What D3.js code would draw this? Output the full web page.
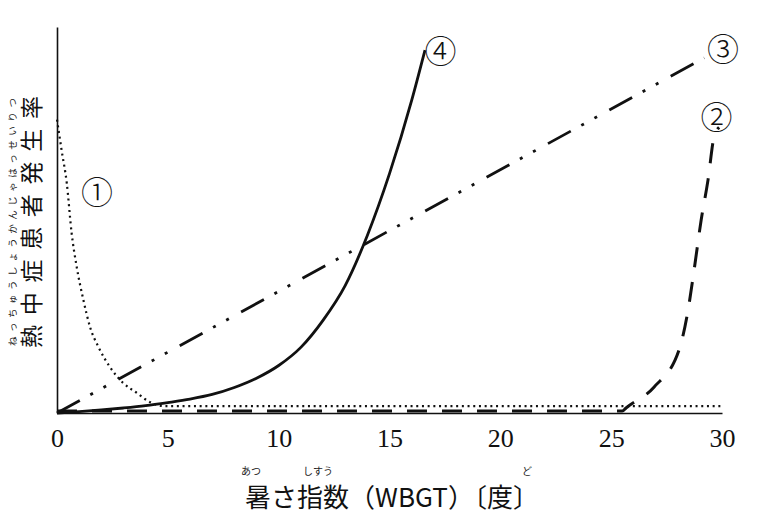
<!DOCTYPE html>
<html>
<head>
<meta charset="utf-8">
<script src="https://cdn.jsdelivr.net/npm/d3@7/dist/d3.min.js"></script>
<style>
  html, body { margin: 0; padding: 0; background: #fff; }
  svg { display: block; }
</style>
</head>
<body>
<svg id="chart" width="780" height="525"></svg>
<script>
// x ticks (WBGT)
const xTicks = [0, 5, 10, 15, 20, 25, 30];

// curve 1 (dotted): falls quickly, then stays low
const curve1X = [0, 0.21, 0.44, 0.66, 0.89, 1.19, 1.49, 1.87, 2.39, 2.98, 3.6, 4.2, 4.8, 30];
const curve1Y = [76, 68, 59.6, 46.6, 37.8, 29.3, 22.3, 17.1, 11.9, 7.8, 5.2, 2.8, 1.8, 1.8];

// curve 2 (dashed): flat, then steep rise near 26-30
const curve2X = [0, 25.5, 25.67, 26.93, 28.06, 28.47, 28.74, 29.06, 29.37, 29.64, 29.87];
const curve2Y = [0.5, 0.5, 1.3, 6.7, 16.3, 26.7, 37, 50, 60.4, 71.5, 74];

// curve 3 (dash-dot-dot): straight rise
const curve3X = [0, 29.2];
const curve3Y = [0, 92];

// curve 4 (solid): accelerating rise
const curve4X = [0, 1, 2, 3, 4, 5, 6, 7, 8, 9, 10, 11, 12, 13, 14, 15, 16, 16.6];
const curve4Y = [0, 0.35, 0.8, 1.3, 1.9, 2.7, 3.6, 4.8, 6.6, 9, 12.3, 17, 24, 33, 46, 62, 81, 94];

// curve labels
const labelText = ["①", "②", "③", "④"];
const labelX = [1.8, 29.75, 30.05, 17.3];
const labelY = [57, 76.5, 94.2, 93.6];

const svg = d3.select("#chart");
const margin = { top: 27, right: 58, bottom: 112, left: 57 };
const width = 780 - margin.left - margin.right;
const height = 525 - margin.top - margin.bottom;

const g = svg.append("g")
    .attr("transform", "translate(" + margin.left + "," + margin.top + ")");

const x = d3.scaleLinear().domain([0, 30]).range([0, width]);
const y = d3.scaleLinear().domain([0, 100]).range([height, 0]);

const serif = "'Liberation Serif', 'DejaVu Serif', serif";
const jp = "'Noto Sans CJK JP', sans-serif";

// axes: plain lines, no tick marks
const xAxis = g.append("g")
    .attr("transform", "translate(0," + height + ")")
    .call(d3.axisBottom(x).tickValues(xTicks).tickSize(0).tickPadding(16).tickFormat(d3.format("d")));
xAxis.select(".domain").attr("stroke", "#111").attr("stroke-width", 1.6);
xAxis.selectAll("text")
    .attr("font-family", serif)
    .attr("font-size", 26)
    .attr("fill", "#111");

const yAxis = g.append("g")
    .call(d3.axisLeft(y).tickValues([]).tickSize(0));
yAxis.select(".domain").attr("stroke", "#111").attr("stroke-width", 1.6);

function zipPts(xs, ys) {
    return xs.map((v, i) => ({ x: v, y: ys[i] }));
}

const line = d3.line()
    .x(d => x(d.x))
    .y(d => y(d.y))
    .curve(d3.curveMonotoneX);

const curves = [
    { pts: zipPts(curve1X, curve1Y), dash: "2,3.7", w: 2.2 },
    { pts: zipPts(curve2X, curve2Y), dash: "20,15", w: 3 },
    { pts: zipPts(curve3X, curve3Y), dash: "26,12,3,12,3,14", w: 2.8 },
    { pts: zipPts(curve4X, curve4Y), dash: null, w: 2.8 }
];

g.selectAll(".curve")
    .data(curves)
    .enter()
    .append("path")
    .attr("class", "curve")
    .attr("fill", "none")
    .attr("stroke", "#111")
    .attr("stroke-width", d => d.w)
    .attr("stroke-dasharray", d => d.dash)
    .attr("d", d => line(d.pts));

// curve number labels
g.selectAll(".num")
    .data(labelText)
    .enter()
    .append("text")
    .attr("class", "num")
    .attr("x", (d, i) => x(labelX[i]))
    .attr("y", (d, i) => y(labelY[i]))
    .attr("dy", "0.35em")
    .attr("text-anchor", "middle")
    .attr("font-family", jp)
    .attr("font-size", 32)
    .attr("font-weight", 300)
    .attr("fill", "#111")
    .text(d => d);

// y axis title with furigana, rotated
const yTitle = svg.append("g")
    .attr("transform", "translate(32,222) rotate(-90)");
yTitle.append("text")
    .attr("text-anchor", "middle")
    .attr("dy", "0.35em")
    .attr("font-family", jp)
    .attr("font-size", 23)
    .attr("fill", "#111")
    .attr("textLength", 252)
    .attr("lengthAdjust", "spacing")
    .text("熱中症患者発生率");
yTitle.append("text")
    .attr("y", -19)
    .attr("text-anchor", "middle")
    .attr("dy", "0.35em")
    .attr("font-family", jp)
    .attr("font-size", 9.5)
    .attr("fill", "#222")
    .attr("textLength", 248)
    .attr("lengthAdjust", "spacing")
    .text("ねっちゅうしょうかんじゃはっせいりつ");

// x axis title with furigana
const xTitle = svg.append("g");
xTitle.append("text")
    .attr("x", 392)
    .attr("y", 507)
    .attr("text-anchor", "middle")
    .attr("font-family", jp)
    .attr("font-size", 26)
    .attr("fill", "#111")
    .text("暑さ指数（WBGT）〔度〕");
const ruby = [["あつ", 251], ["しすう", 318], ["ど", 527]];
xTitle.selectAll(".ruby")
    .data(ruby)
    .enter()
    .append("text")
    .attr("class", "ruby")
    .attr("x", d => d[1])
    .attr("y", 475)
    .attr("text-anchor", "middle")
    .attr("font-family", jp)
    .attr("font-size", 10)
    .attr("fill", "#222")
    .text(d => d[0]);
</script>
</body>
</html>
